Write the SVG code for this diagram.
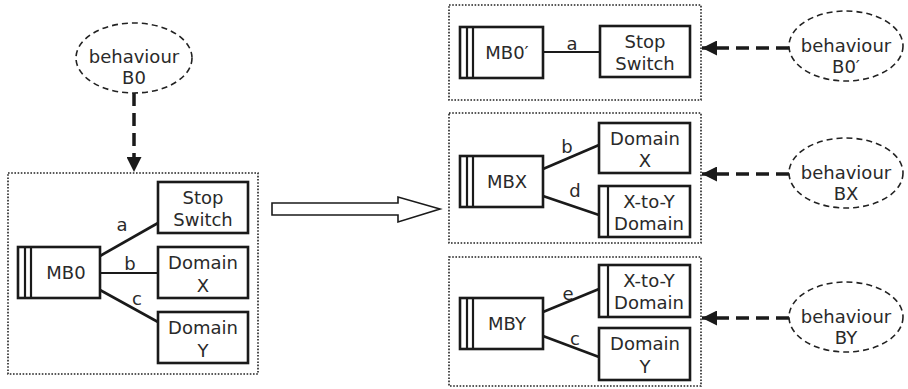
<svg xmlns="http://www.w3.org/2000/svg" width="908" height="389" viewBox="0 0 908 389">
<style>
text{font-family:"DejaVu Sans","Liberation Sans",sans-serif;font-size:18px;fill:#2a2a2a;text-anchor:middle}
.box{fill:#fff;stroke:#1a1a1a;stroke-width:2.6}
.stripe{stroke:#1a1a1a;stroke-width:2.2}
.cont{fill:none;stroke:#222;stroke-width:1.6;stroke-dasharray:1.6 1.6}
.ell{fill:#fff;stroke:#222;stroke-width:1.6;stroke-dasharray:6 4}
.edge{stroke:#1a1a1a;stroke-width:2.6;fill:none}
.dash{stroke:#1a1a1a;stroke-width:3.5;stroke-dasharray:13 7;fill:none}
.big{fill:#fff;stroke:#1a1a1a;stroke-width:1.6}
</style>
<defs>
<marker id="ah" markerWidth="15" markerHeight="15" viewBox="0 0 15 15" refX="15" refY="7.5" orient="auto" markerUnits="userSpaceOnUse">
<path d="M0,0 L15,7.5 L0,15 z" fill="#1a1a1a"/>
</marker>
</defs>

<g id="container-left"><rect class="cont" x="8" y="173" width="250" height="201"/></g>
<g id="container-top"><rect class="cont" x="449" y="5" width="252" height="95"/></g>
<g id="container-mid"><rect class="cont" x="449" y="113" width="252" height="130"/></g>
<g id="container-bot"><rect class="cont" x="449" y="257" width="252" height="129"/></g>

<g id="connectors">
<line class="edge" x1="100" y1="256" x2="158" y2="223"/>
<line class="edge" x1="100" y1="273" x2="158" y2="273" style="stroke-width:2"/>
<line class="edge" x1="100" y1="290" x2="158" y2="322"/>
<line class="edge" x1="543" y1="52" x2="600" y2="52" style="stroke-width:2"/>
<line class="edge" x1="543" y1="169" x2="599" y2="145"/>
<line class="edge" x1="543" y1="196" x2="599" y2="215"/>
<line class="edge" x1="543" y1="312" x2="599" y2="289"/>
<line class="edge" x1="543" y1="336" x2="599" y2="357"/>
<line class="dash" x1="134" y1="93" x2="134" y2="172" marker-end="url(#ah)"/>
<line class="dash" x1="789" y1="48" x2="702" y2="48" marker-end="url(#ah)"/>
<line class="dash" x1="789" y1="174" x2="702" y2="174" marker-end="url(#ah)"/>
<line class="dash" x1="789" y1="318" x2="702" y2="318" marker-end="url(#ah)"/>
<polygon class="big" points="272,203 398,203 398,197 440,209 398,222 398,215 272,215"/>
<text x="122" y="231">a</text>
<text x="130" y="270">b</text>
<text x="137" y="305">c</text>
<text x="572" y="50">a</text>
<text x="567" y="153">b</text>
<text x="575" y="197">d</text>
<text x="568" y="300">e</text>
<text x="575" y="345">c</text>
</g>

<g id="b0"><ellipse class="ell" cx="134" cy="58" rx="58" ry="35"/><text x="134" y="63">behaviour</text><text x="134" y="84">B0</text></g>
<g id="b0p"><ellipse class="ell" cx="846" cy="46" rx="57" ry="35"/><text x="846" y="52">behaviour</text><text x="846" y="73">B0′</text></g>
<g id="bx"><ellipse class="ell" cx="846" cy="173" rx="57" ry="35"/><text x="846" y="179">behaviour</text><text x="846" y="200">BX</text></g>
<g id="by"><ellipse class="ell" cx="846" cy="317" rx="57" ry="35"/><text x="846" y="323">behaviour</text><text x="846" y="344">BY</text></g>

<g id="mb0"><rect class="box" x="18" y="247" width="82" height="51"/><line class="stripe" x1="25" y1="247" x2="25" y2="298"/><line class="stripe" x1="31" y1="247" x2="31" y2="298"/><text x="66" y="279">MB0</text></g>
<g id="stop-left"><rect class="box" x="158" y="182" width="90" height="51"/><text x="203" y="204">Stop</text><text x="203" y="226">Switch</text></g>
<g id="domx-left"><rect class="box" x="158" y="247" width="90" height="51"/><text x="203" y="269">Domain</text><text x="203" y="292">X</text></g>
<g id="domy-left"><rect class="box" x="158" y="312" width="90" height="51"/><text x="203" y="334">Domain</text><text x="203" y="357">Y</text></g>

<g id="mb0p"><rect class="box" x="460" y="27" width="83" height="51"/><line class="stripe" x1="467" y1="27" x2="467" y2="78"/><line class="stripe" x1="473" y1="27" x2="473" y2="78"/><text x="507" y="59">MB0′</text></g>
<g id="stop-right"><rect class="box" x="600" y="26" width="90" height="51"/><text x="645" y="48">Stop</text><text x="645" y="70">Switch</text></g>

<g id="mbx"><rect class="box" x="460" y="156" width="83" height="51"/><line class="stripe" x1="467" y1="156" x2="467" y2="207"/><line class="stripe" x1="473" y1="156" x2="473" y2="207"/><text x="507" y="188">MBX</text></g>
<g id="domx-right"><rect class="box" x="599" y="123" width="91" height="50"/><text x="645" y="145">Domain</text><text x="645" y="167">X</text></g>
<g id="xty-mid"><rect class="box" x="599" y="186" width="91" height="51"/><line class="stripe" x1="608" y1="186" x2="608" y2="237"/><text x="649" y="208">X-to-Y</text><text x="649" y="230">Domain</text></g>

<g id="mby"><rect class="box" x="460" y="298" width="83" height="51"/><line class="stripe" x1="467" y1="298" x2="467" y2="349"/><line class="stripe" x1="473" y1="298" x2="473" y2="349"/><text x="507" y="330">MBY</text></g>
<g id="xty-bot"><rect class="box" x="599" y="265" width="91" height="52"/><line class="stripe" x1="608" y1="265" x2="608" y2="317"/><text x="649" y="287">X-to-Y</text><text x="649" y="309">Domain</text></g>
<g id="domy-right"><rect class="box" x="599" y="328" width="91" height="52"/><text x="645" y="350">Domain</text><text x="645" y="373">Y</text></g>
</svg>
